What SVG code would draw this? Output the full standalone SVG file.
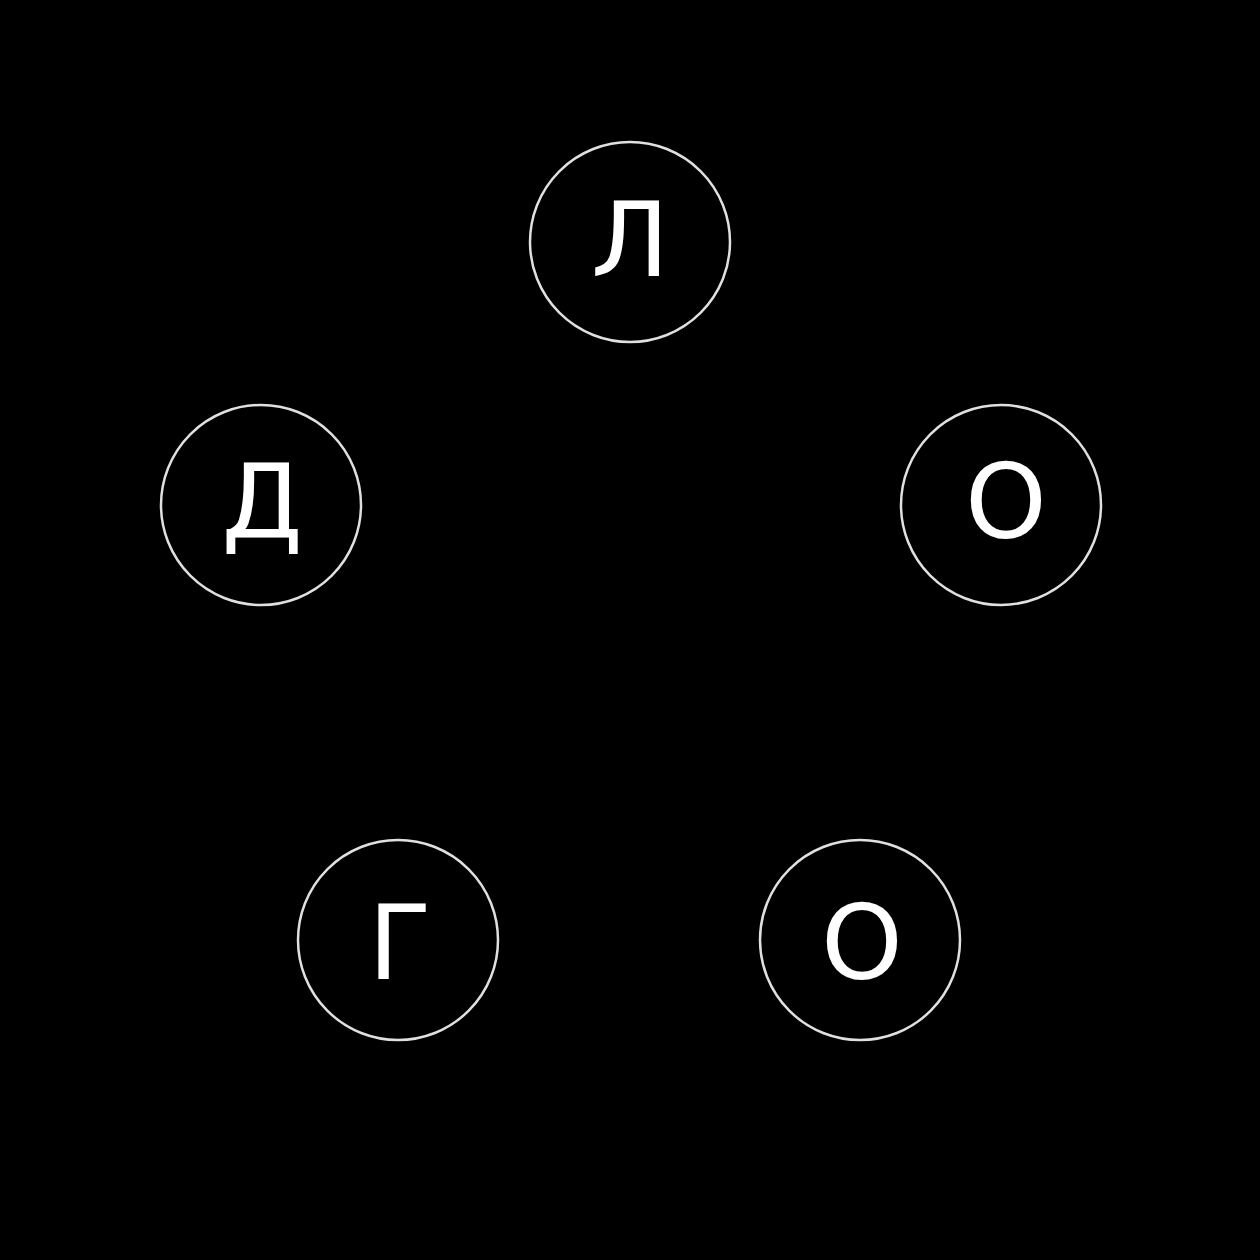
<svg xmlns="http://www.w3.org/2000/svg" width="1260" height="1260" viewBox="0 0 1260 1260">
<style>
.n circle{fill:#000;stroke:#e0e0e0;stroke-width:2.5}
.n text{fill:#fff;font-family:"DejaVu Sans","Liberation Sans",sans-serif;font-size:104px;text-anchor:middle}
</style>
<rect width="1260" height="1260" fill="#000"/>
<g id="connectors"></g>
<g id="node-l" class="n"><circle cx="630" cy="242" r="100"/><text x="630" y="276">Л</text></g>
<g id="node-o1" class="n"><circle cx="1001" cy="505" r="100"/><text x="1006" y="538">О</text></g>
<g id="node-o2" class="n"><circle cx="860" cy="940" r="100"/><text x="862" y="979">О</text></g>
<g id="node-g" class="n"><circle cx="398" cy="940" r="100"/><text x="400" y="979">Г</text></g>
<g id="node-d" class="n"><circle cx="261" cy="505" r="100"/><text x="262" y="538">Д</text></g>
</svg>
